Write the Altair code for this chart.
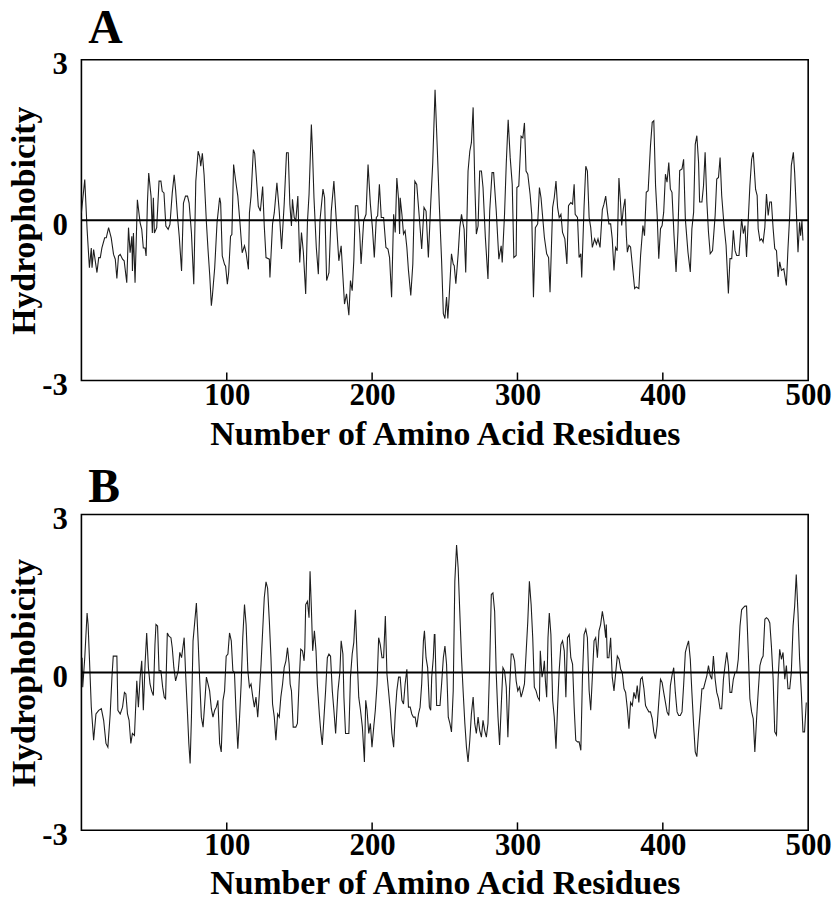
import altair as alt
import pandas as pd

FONT = "Liberation Serif"

# ---------------- Panel A : residue number / hydrophobicity ----------------
A_residue = [
    0, 2.3, 3.9, 5.5, 6.8, 7.3, 8.4, 10.7, 11.9, 13.0,
    14.1, 16.0, 17.1, 18.7, 20.5, 22.1, 23.3, 24.4, 25.5, 26.7,
    28.3, 29.4, 31.2, 32.4, 33.5, 34.7, 35.1, 35.8, 36.9, 38.5,
    40.4, 41.5, 42.6, 43.8, 44.5, 45.4, 46.3, 47.9, 48.8, 49.5,
    50.2, 51.8, 53.4, 54.7, 55.6, 56.8, 58.1, 59.7, 60.9, 62.5,
    63.8, 64.8, 66.1, 67.3, 68.9, 70.2, 71.6, 73.0, 74.1, 75.7,
    77.3, 78.7, 80.3, 81.4, 82.1, 83.2, 84.4, 86.0, 87.1, 88.3,
    89.4, 90.1, 91.7, 93.3, 95.1, 95.8, 96.9, 98.5, 99.2, 100.4,
    101.3, 102.6, 103.5, 104.7, 106.0, 107.6, 109.0, 110.6, 112.2, 113.3,
    114.9, 115.6, 116.7, 118.3, 119.2, 120.6, 121.7, 123.1, 124.7, 125.8,
    127.0, 129.3, 129.7, 131.5, 132.7, 134.5, 136.1, 137.7, 139.5, 141.1,
    142.3, 143.4, 144.5, 145.2, 146.4, 147.5, 148.9, 150.2, 151.4, 152.7,
    154.3, 155.5, 156.6, 158.2, 158.9, 160.0, 161.6, 163.0, 164.1, 166.2,
    167.3, 168.7, 170.3, 171.9, 173.7, 175.5, 177.1, 178.7, 179.4, 181.0,
    182.4, 184.0, 185.1, 186.3, 187.4, 188.5, 190.1, 191.5, 192.4, 194.2,
    195.8, 197.2, 198.8, 200.2, 201.5, 202.9, 203.8, 205.0, 206.3, 207.9,
    209.5, 210.9, 212.0, 213.4, 214.8, 215.9, 217.0, 218.2, 218.9, 219.3,
    220.5, 221.6, 222.7, 223.9, 225.0, 226.6, 228.0, 229.4, 230.7, 232.3,
    234.1, 235.7, 237.1, 238.7, 240.3, 241.7, 243.3, 244.9, 246.2, 247.8,
    249.0,
    250.1, 251.2, 252.1, 253.0, 254.6, 255.8, 256.5, 257.6, 259.2, 260.3,
    261.5, 262.6, 263.3, 264.4, 266.0, 267.2, 268.3, 269.5, 270.6, 271.7,
    272.9, 274.0, 275.2, 276.3, 277.9, 279.7, 280.9, 282.5, 283.6, 285.4,
    287.2, 288.8, 289.5, 291.1, 292.3, 293.6, 295.0, 296.4, 297.5, 299.1,
    299.6, 300.9, 302.5, 303.7, 304.8, 305.9, 307.1, 308.7, 309.8, 311.0,
    312.3, 313.9, 315.1, 316.2, 318.5, 320.1, 321.4, 322.4, 324.2, 325.3,
    326.5, 327.6, 328.7, 329.9, 331.0, 332.6, 334.0, 335.1, 336.7, 337.9,
    339.0, 339.7, 341.3, 342.4, 343.6, 344.2, 345.8, 347.0, 348.1, 349.3,
    350.4, 351.5, 353.1, 354.3, 355.4, 356.8, 358.4, 359.5, 360.7, 361.8,
    362.9, 364.1, 365.2, 366.4, 367.5, 368.6, 369.8, 370.9,
    371.7, 372.8, 374.0, 374.9, 375.6, 376.7, 377.8, 379.0, 380.6, 381.7,
    383.5, 384.7, 386.3, 387.4, 388.6, 389.9, 391.5, 392.7, 393.8, 395.0,
    396.1, 397.2, 398.4, 399.5, 400.6, 401.8, 402.9, 404.1, 405.2, 406.3,
    407.7, 409.1, 410.4, 411.6, 413.2, 414.3, 415.5, 417.3, 418.9, 420.0,
    421.2, 422.3, 423.4, 424.6, 425.3, 426.9, 428.0, 429.1, 430.3, 431.4,
    432.6, 434.2, 436.0, 437.1, 438.3, 439.4, 440.5, 442.1, 443.5, 445.1,
    446.2, 447.4, 448.5, 449.7, 450.8, 452.4, 454.2, 455.4, 456.5, 457.6,
    458.8, 459.9, 461.1, 462.2, 463.8, 464.9, 465.6, 466.8, 467.9, 469.0,
    470.2, 471.3, 472.5, 473.6, 474.7, 475.9, 477.0, 478.2, 479.3, 480.4,
    481.6, 483.2, 485.0, 486.1, 487.3, 488.4, 489.8, 490.7, 491.8, 493.0,
    494.1, 494.8, 495.7, 496.4,
]
A_hydro = [
    0.14, 0.76, -0.17, -0.89, -0.52, -0.89, -0.55, -0.98, -0.70, -0.70,
    -0.52, -0.33, -0.33, -0.14, -0.33, -0.64, -0.73, -1.09, -0.67, -0.64,
    -0.73, -0.76, -1.17, -0.14, -0.61, -0.30, -0.95, -0.24, -1.17, 0.38,
    -0.05, -0.17, -0.52, -0.52, -0.67, 0.32, 0.88, 0.45, -0.24, 0.42,
    -0.24, -0.14, 0.73, 0.73, 0.54, 0.51, -0.11, -0.17, -0.08, 0.51,
    0.85, 0.57, 0.07, -0.30, -0.95, 0.32, 0.45, 0.45, 0.32, -0.24,
    -1.20, 0.73, 1.29, 1.19, 1.01, 1.25, 0.85, -0.05, -0.55, -1.04,
    -1.60, -1.42, -0.89, -0.05, 0.42, 0.32, -0.67, -0.83, -0.86, -1.20,
    -0.98, -0.30, -0.27, 1.04, 0.76, 0.45, -0.02, -0.61, -0.48, -0.61,
    -0.92, 0.14, 0.45, 1.32, 1.25, 0.70, 0.26, 0.17, 0.63, -0.11,
    -0.70, -0.73, -1.07, -0.07, 0.14, 0.70, 0.17, -0.54, 0.30, 1.26,
    1.26, 0.30, -0.11, 0.39, 0.05, -0.01, 0.45, -0.79, -0.23, -0.60,
    -1.38, -0.04, 0.48, 1.79, 1.35, 0.42, -0.51, -1.01, -0.01, 0.58,
    0.42, -1.13, -0.98, 0.17, 0.73, -0.07, -0.76, -0.48, -0.82, -1.57,
    -1.38, -1.78, -1.13, -1.32, -0.76, 0.27, 0.27, -0.26, -0.82, -0.01,
    0.11, 1.04, 0.30, -0.14, -0.70, 0.05, 0.08, 0.67, 0.05, 0.05,
    -0.51, -0.54, -0.70, -1.44, 0.11, -0.23, 0.79, 0.39, -0.26, 0.42,
    0.11, -0.26, -0.20, -0.51, -0.94, -1.41, -0.82, 0.73, 0.67, 0.11,
    -0.54, 0.24, 0.17, -0.70, 0.30, 1.07, 2.44, 1.29, 0.30, -0.76,
    -1.75,
    -1.84, -1.44, -1.84, -1.44, -0.63, -0.82, -0.85, -1.19, -0.63, -0.14,
    0.11, -0.07, -0.17, -0.98, 0.92, 1.29, 1.45, 2.11, 0.73, -0.26,
    -0.11, 0.92, 0.92, 0.61, -0.32, -1.10, 0.17, 0.89, 0.89, 0.17,
    -0.73, -0.48, -0.79, 0.11, 1.07, 1.88, 1.17, 0.67, -0.70, -0.66,
    0.61, 0.64, 1.57, 1.54, 1.82, 0.92, 0.86, 0.48, 0.11, -1.44,
    -0.14, -0.07, 0.61, 0.42, -0.32, -0.63, -0.70, -1.35, 0.24, 0.42,
    0.73, 0.24, 0.05, 0.11, -0.23, -0.35, -0.82, 0.27, 0.33, 0.30,
    0.67, 0.11, 0.05, -0.70, -0.63, -1.07, 0.24, 1.01, 0.92, 0.05,
    -0.14, -0.51, -0.35, -0.45, -0.35, -0.51, 0.20, 0.30, 0.45, 0.17,
    -0.07, -0.07, -0.35, -0.94, -0.51, -0.57, 0.79, 0.33,
    -0.10, 0.21, 0.40, -0.29, -0.60, -0.47, -0.50, -0.84, -1.28, -1.25,
    -1.28, -0.66, -0.10, -0.29, 0.52, 0.55, 1.39, 1.83, 1.86, 0.65,
    0.09, -0.72, -0.16, -0.10, 0.15, 0.86, 0.71, 1.08, 0.58, 0.52,
    -0.29, -0.97, -0.22, 0.93, 0.96, 1.14, 0.02, -0.60, -0.97, -0.16,
    0.15, 1.42, 1.58, 1.08, 0.34, 0.34, 0.65, 1.27, 0.34, -0.22,
    -0.63, -0.57, 0.09, 0.77, 0.80, 1.17, 0.46, -0.10, -0.47, -1.37,
    -0.72, -0.72, -0.19, -0.57, -0.66, -0.66, 0.02, -0.25, -0.10, -0.69,
    0.02, 0.65, 1.14, 1.27, 0.58, 0.46, -0.16, -0.38, -0.35, -0.41,
    -0.13, 0.49, 0.09, 0.34, 0.34, -0.16, -0.53, -0.57, -1.06, -0.78,
    -0.94, -0.91, -1.22, -0.53, 0.09, 1.02, 1.27, 0.89, 0.21, -0.60,
    -0.04, -0.29, -0.01, -0.38,
]

# ---------------- Panel B : residue number / hydrophobicity ----------------
B_residue = [
    0.5, 0.9, 2.3, 3.9, 4.6, 5.5, 6.8, 8.4, 10.0, 11.9,
    13.7, 15.3, 16.9, 18.2, 19.8, 21.0, 21.9, 24.4, 25.1, 26.7,
    28.3, 29.6, 30.6, 31.7, 32.8, 34.0, 35.1, 36.5, 38.1, 39.2,
    40.4, 41.5, 42.6, 43.8, 44.9, 46.1, 47.2, 48.3, 49.5, 50.6,
    51.3, 52.4, 53.4, 54.7, 55.9, 57.0, 57.9, 59.1, 60.2, 61.6,
    62.5, 63.6, 64.8, 66.6, 67.7, 68.9, 69.8, 70.7, 71.8, 73.0,
    73.9, 74.8, 75.7, 76.8, 78.0, 79.1, 80.3, 81.4, 82.5, 83.7,
    84.8, 86.0, 87.1, 88.2, 89.4, 90.5, 91.7, 92.8, 93.9, 95.1,
    96.2, 97.4, 98.5, 99.6, 100.8, 101.9, 103.1, 104.2, 105.3, 106.5,
    107.6, 108.8, 109.9, 111.0, 112.2, 113.3, 114.5, 115.6, 116.7, 117.9,
    119.0,
    120.1, 121.3, 122.4, 123.6, 124.7, 125.8, 127.0, 128.1, 129.3, 130.4,
    131.5, 132.7, 133.8, 135.0, 136.1, 137.2, 138.4, 139.5, 140.7, 141.8,
    142.9, 143.6, 144.5, 145.7, 147.5, 148.6, 149.8, 150.9, 152.1, 153.2,
    153.7, 154.3, 155.5, 156.6, 157.3, 158.2, 159.1, 160.3, 161.4, 162.3,
    163.7, 164.6, 165.7, 166.9, 168.0, 169.2, 170.3, 171.4, 172.6, 173.7,
    174.9, 176.5, 177.8, 178.7, 179.9, 180.6, 181.7, 184.0, 185.1, 186.3,
    187.4, 188.5, 189.7, 190.8, 192.0, 193.3, 194.7, 195.6, 196.5, 197.7,
    198.8, 199.9, 201.1, 202.2, 203.4, 204.5, 205.6, 206.8, 207.9, 209.1,
    210.2, 211.3, 212.5, 213.6, 214.8, 215.9, 217.0, 218.2, 219.3, 220.5,
    221.6, 222.7, 223.9, 225.0, 226.2, 227.3, 228.4, 229.6, 230.7, 231.9,
    233.0, 234.1, 235.3, 236.0, 237.1, 238.2, 239.4, 240.3, 241.0, 242.1,
    242.8,
    243.2, 244.4, 246.7, 247.8, 249.0, 250.1, 251.2, 252.4, 253.5, 254.6,
    255.8, 256.9, 258.1, 259.2, 260.3, 261.5, 262.6, 263.8, 264.9, 266.0,
    267.2, 268.3, 269.5, 270.6, 271.7, 272.9, 274.0, 275.2, 276.3, 277.4,
    278.6, 279.7, 280.9, 282.0, 283.1, 284.3, 285.4, 286.6, 287.7, 288.8,
    290.0, 291.1, 292.3, 293.4, 294.5, 295.7, 296.8, 298.0, 299.1, 300.2,
    301.4, 302.5, 303.7, 304.8, 305.9, 307.1, 308.2, 309.4, 310.5, 311.6,
    312.8, 313.9, 315.1, 315.7, 316.9, 317.8, 318.5, 319.2, 320.1, 321.0,
    321.9, 323.0, 324.2, 325.3, 326.5, 327.6, 328.7, 329.9, 331.0, 332.2,
    333.3, 334.4, 335.6, 336.7, 337.9, 339.0, 340.1, 341.3, 342.4, 343.6,
    344.7, 345.8, 347.0, 348.1, 349.3, 350.4, 351.5, 352.7, 353.8, 355.0,
    356.1, 357.2, 358.4, 359.5, 360.7, 361.1, 361.8, 362.9, 364.1, 365.2,
    366.4,
    367.6, 368.7, 369.9, 371.0, 372.1, 373.3, 374.4, 375.6, 376.7, 377.8,
    379.0, 380.1, 381.3, 382.4, 383.5, 384.7, 385.8, 387.0, 388.1, 389.2,
    390.4, 391.5, 392.7, 393.8, 394.9, 396.1, 397.2, 398.4, 399.5, 400.6,
    401.8, 402.9, 404.1, 405.2, 406.3, 407.5, 408.6, 409.8, 410.9, 412.0,
    413.2, 414.3, 415.5, 416.6, 417.7, 418.9, 420.0, 421.2, 422.3, 423.4,
    424.6, 425.7, 426.9, 428.0, 429.1, 430.3, 431.4, 432.6, 433.7, 434.8,
    436.0, 437.1, 438.3, 439.4, 440.5, 441.7, 442.8, 444.0, 445.1, 446.2,
    447.4, 448.5, 449.7, 450.8, 451.9, 453.1, 454.2, 455.4, 456.5, 457.6,
    458.8, 459.9, 461.1, 462.2, 463.3, 464.5, 465.6, 466.8, 467.9, 469.0,
    470.2, 471.3, 472.5, 473.6, 474.7, 475.9, 477.0, 478.2, 479.3, 480.4,
    481.6, 482.7, 483.9, 485.0, 486.1, 487.3, 488.4, 489.6, 490.7, 491.8,
    493.0, 494.1, 495.3, 496.4, 497.5, 498.7,
]
B_hydro = [
    0.28, -0.28, 0.28, 1.13, 0.91, 0.28, -0.66, -1.29, -0.79, -0.72,
    -0.69, -0.91, -1.35, -1.42, -0.79, -0.09, 0.31, 0.31, -0.72, -0.79,
    -0.66, -0.38, -0.41, -0.79, -0.91, -1.35, -1.16, -1.20, -0.16, -0.66,
    -0.09, 0.22, -0.72, 0.16, 0.75, 0.09, -0.22, -0.35, -0.44, 0.53,
    0.91, 0.88, 0.03, 0.03, -0.28, -0.47, -0.50, 0.75, 0.69, 0.66,
    0.47, 0.09, -0.16, 0.03, 0.38, 0.28, 0.47, 0.66, -0.09, -0.79,
    -1.35, -1.73, -0.85, 0.60, 0.97, 1.32, 0.60, -0.16, -0.85, -1.04,
    -0.60, -0.09, -0.22, -0.35, -0.69, -0.85, -0.72, -0.66, -0.53, -1.35,
    -1.51, -0.53, -0.35, 0.31, 0.35, 0.75, 0.60, 0.03, 0.00, -0.85,
    -1.45, -0.85, -0.22, 0.66, 1.29, 0.91, 0.03, -0.28, -0.22, -0.47,
    -0.66,
    -0.47, -0.85, -0.41, 0.16, 0.79, 1.42, 1.72, 1.60, 0.97, 0.28,
    -0.60, -0.85, -1.29, -0.79, -0.85, -0.47, -0.22, 0.09, 0.22, 0.47,
    0.16, -0.22, -0.35, -1.04, -1.04, -0.97, -0.16, 0.44, 0.41, 0.22,
    0.47, 1.29, 1.35, 1.04, 1.92, 1.23, 0.41, 0.79, 0.41, -0.22,
    -0.79, -1.10, -1.38, -0.85, -0.35, 0.28, 0.35, 0.31, -0.35, -0.72,
    -1.16, -0.35, 0.00, 0.60, 0.35, -0.47, -1.16, -1.16, -0.09, 0.35,
    0.57, 1.19, 0.28, -0.47, -0.72, -1.04, -1.70, -0.53, -0.72, -1.16,
    -0.97, -1.42, -1.04, -0.72, -0.22, 0.66, 0.53, 0.28, 0.28, 1.07,
    -0.03, -0.35, -0.72, -1.16, -1.42, -0.79, -0.35, -0.09, -0.09, -0.53,
    -0.60, -0.22, 0.06, -0.66, -0.66, -0.79, -0.85, -0.85, -1.04, -0.79,
    -0.66, -0.22, 0.60, 0.79, 0.28, 0.09, -0.66, -0.72, -0.09, 0.28,
    0.72,
    0.72, -0.63, -0.63, -0.22, 0.28, 0.50, 0.16, -0.85, -0.97, -1.13,
    -0.35, 1.73, 2.42, 1.98, 1.16, 0.28, -0.35, -0.97, -1.42, -1.70,
    -1.29, -0.79, -0.47, -0.97, -1.16, -0.85, -1.10, -1.23, -0.91, -1.10,
    -1.23, -0.97, 0.16, 1.48, 1.51, 1.16, -0.03, -0.85, -1.38, -0.66,
    0.09, 0.03, -0.28, -1.23, -0.35, 0.35, 0.35, 0.22, -0.16, -0.35,
    -0.28, -0.47, -0.35, -0.22, 0.35, 0.97, 1.73, 1.29, 0.66, -0.28,
    -0.35, -0.47, -0.53, 0.41, -0.09, 0.03, 0.22, -0.16, -0.47, 0.66,
    1.13, 0.72, -0.53, -0.85, -1.45, -0.66, 0.03, 0.53, 0.60, 0.41,
    -0.47, 0.66, 0.72, 0.28, 0.16, -0.66, -1.29, -1.32, -1.32, -1.48,
    -0.09, 0.72, 0.82, 0.66, -0.35, -0.72, -0.09, 0.60, 0.66, 0.28,
    0.79, 0.91, 1.16, 0.97, 0.66, 0.91, 0.28, 0.28, 0.66, -0.09,
    -0.35,
    0.00, 0.31, 0.25, 0.06, 0.00, -0.31, -0.38, -0.69, -1.07, -0.57,
    -0.63, -0.38, -0.50, -0.25, -0.57, -0.13, -0.09, -0.31, -0.63, -0.69,
    -0.75, -0.75, -0.88, -1.13, -1.26, -1.01, -0.57, -0.13, -0.19, -0.38,
    -0.57, -0.75, -0.82, -0.25, -0.06, 0.09, -0.38, -0.75, -0.82, -0.82,
    -0.75, -0.25, 0.38, 0.50, 0.60, 0.25, -0.38, -1.01, -1.51, -1.60,
    -1.13, -0.75, -0.31, -0.31, -0.19, -0.06, 0.13, -0.06, -0.13, 0.31,
    -0.13, -0.38, -0.50, -0.69, -0.69, -0.13, 0.13, 0.38, 0.13, -0.38,
    -0.38, -0.13, 0.00, 0.00, 0.25, 0.88, 1.19, 1.23, 1.26, 1.26,
    0.38, -0.50, -0.75, -0.88, -1.51, -0.88, -0.38, 0.13, 0.25, 0.31,
    1.01, 1.04, 1.01, 0.94, 0.50, -0.13, -1.13, -1.19, -0.13, 0.44,
    0.25, 0.38, -0.13, 0.13, -0.31, -0.31, 0.00, 0.88, 1.26, 1.86,
    1.13, 0.25, -0.38, -1.13, -1.13, -0.57,
]

X_TICK_LABELS = [100, 200, 300, 400, 500]
X_INNER_TICKS = [100, 200, 300, 400]
Y_TICK_LABELS = [-3, 0, 3]


def panel(letter, residue, hydro, height, letter_y):
    n = min(len(residue), len(hydro))
    df = pd.DataFrame({"res": residue[:n], "hyd": hydro[:n]})

    x_enc = alt.X(
        "res:Q",
        scale=alt.Scale(domain=[0, 500], nice=False, zero=False),
        axis=alt.Axis(
            values=X_TICK_LABELS, title="Number of Amino Acid Residues",
            ticks=False, tickSize=0, domain=False, grid=False,
            labelFont=FONT, labelFontSize=31, labelFontWeight="bold",
            labelColor="black", labelPadding=0, labelFlush=False,
            labelExpr="'' + datum.value",
            titleFont=FONT, titleFontSize=34, titleFontWeight="bold",
            titleColor="black", titlePadding=7,
        ),
    )
    y_enc = alt.Y(
        "hyd:Q",
        scale=alt.Scale(domain=[-3, 3], nice=False, zero=False),
        axis=alt.Axis(
            values=Y_TICK_LABELS, title="Hydrophobicity",
            ticks=False, tickSize=0, domain=False, grid=False,
            labelFont=FONT, labelFontSize=31, labelFontWeight="bold",
            labelColor="black", labelPadding=14, labelOffset=5,
            labelExpr="datum.value < 0 ? '-' + (-datum.value) : '' + datum.value",
            titleFont=FONT, titleFontSize=34, titleFontWeight="bold",
            titleColor="black", titlePadding=0,
        ),
    )

    trace = alt.Chart(df).mark_line(
        color="#1e1e1e", strokeWidth=1.1, clip=True
    ).encode(x=x_enc, y=y_enc, order="res:Q")

    zero = alt.Chart(pd.DataFrame({"z": [0]})).mark_rule(
        color="black", strokeWidth=2
    ).encode(y="z:Q")

    inner = alt.Chart(pd.DataFrame({"t": X_INNER_TICKS})).mark_rule(
        color="black", strokeWidth=1.5
    ).encode(x="t:Q", y=alt.datum(-3), y2=alt.datum(-2.85))

    tag = alt.Chart(pd.DataFrame({"label": [letter]})).mark_text(
        font=FONT, fontSize=48, fontWeight="bold", color="black",
        align="left", baseline="alphabetic",
    ).encode(text="label:N", x=alt.value(7), y=alt.value(letter_y))

    return alt.layer(trace, zero, inner, tag).properties(width=732, height=height)


chart = alt.vconcat(
    panel("A", A_residue, A_hydro, 323, -17),
    panel("B", B_residue, B_hydro, 318, -13),
    spacing=135,
    bounds="flush",
).properties(
    padding={"left": 7, "top": 1, "right": 0, "bottom": 0},
    background="white",
).configure_view(
    stroke="black", strokeWidth=1.6
)

chart.save("out.html", embed_options={"renderer": "svg", "actions": False})
